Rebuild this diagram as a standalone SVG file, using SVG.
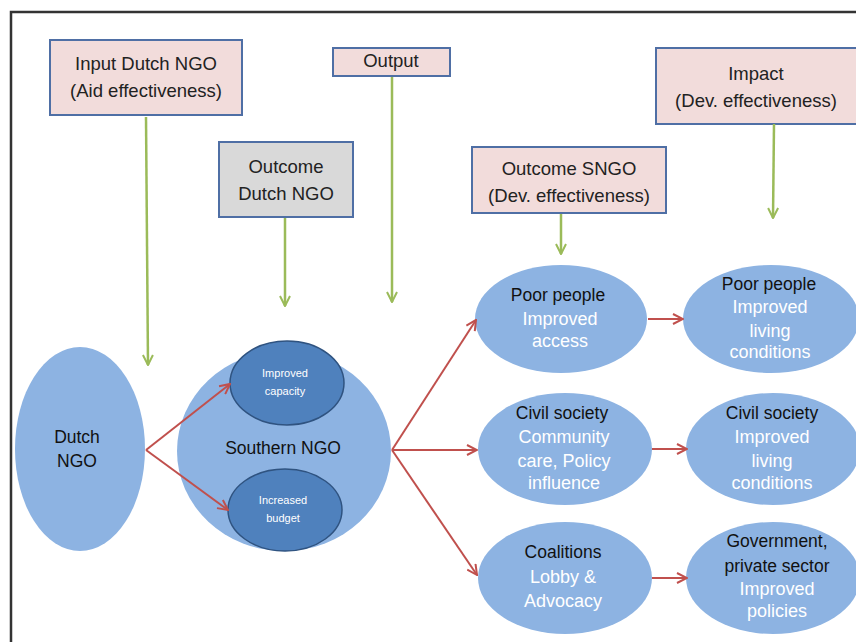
<svg xmlns="http://www.w3.org/2000/svg" width="856" height="642" viewBox="0 0 856 642">
<defs>
<marker id="ag" viewBox="0 0 12 12" refX="11" refY="6" markerWidth="12" markerHeight="12" markerUnits="userSpaceOnUse" orient="auto">
<path d="M1,1 L11,6 L1,11" fill="none" stroke="#9bbb59" stroke-width="2"/>
</marker>
<marker id="ar" viewBox="0 0 12 12" refX="11" refY="6" markerWidth="12" markerHeight="12" markerUnits="userSpaceOnUse" orient="auto">
<path d="M1,1 L11,6 L1,11" fill="none" stroke="#c0504d" stroke-width="2"/>
</marker>
</defs>
<style>
.box{fill:#f2dcdb;stroke:#4f6fa5;stroke-width:2}
.gbox{fill:#d9d9d9;stroke:#4f6fa5;stroke-width:2}
.lt{fill:#8db3e2}
.dk{fill:#4f81bd;stroke:#2f5380;stroke-width:1.5}
text{font-family:"Liberation Sans",Arial,sans-serif;text-anchor:middle}
.bt{font-size:18.5px;fill:#222}
.nt{font-size:17.5px;fill:#111}
.wt{font-size:18px;fill:#ffffff}
.st{font-size:11px;fill:#ffffff}
.g{stroke:#9bbb59;stroke-width:2.5;fill:none;marker-end:url(#ag)}
.r{stroke:#c0504d;stroke-width:2;fill:none;marker-end:url(#ar)}
</style>
<rect width="856" height="642" fill="#ffffff"/>
<path d="M11,660 L11,12 L870,12" fill="none" stroke="#333" stroke-width="2.5"/>

<g id="input-dutch-ngo">
<rect class="box" x="50" y="40" width="192" height="75"/>
<text class="bt" x="146" y="70">Input Dutch NGO</text>
<text class="bt" x="146" y="97">(Aid effectiveness)</text>
</g>
<g id="output">
<rect class="box" x="333" y="48" width="117" height="28"/>
<text class="bt" x="391" y="67">Output</text>
</g>
<g id="outcome-dutch-ngo">
<rect class="gbox" x="219" y="142" width="134" height="75"/>
<text class="bt" x="286" y="173">Outcome</text>
<text class="bt" x="286" y="200">Dutch NGO</text>
</g>
<g id="outcome-sngo">
<rect class="box" x="472" y="147" width="194" height="66"/>
<text class="bt" x="569" y="175">Outcome SNGO</text>
<text class="bt" x="569" y="202">(Dev. effectiveness)</text>
</g>
<g id="impact">
<rect class="box" x="656" y="48" width="210" height="76"/>
<text class="bt" x="756" y="80">Impact</text>
<text class="bt" x="756" y="107">(Dev. effectiveness)</text>
</g>

<g id="dutch-ngo">
<ellipse class="lt" cx="80" cy="449" rx="65" ry="102"/>
<text class="nt" x="77" y="443">Dutch</text>
<text class="nt" x="77" y="467">NGO</text>
</g>
<g id="southern-ngo">
<ellipse class="lt" cx="284" cy="451" rx="107" ry="100"/>
<text class="nt" x="283" y="454">Southern NGO</text>
</g>
<g id="improved-capacity">
<ellipse class="dk" cx="287" cy="383" rx="57" ry="42"/>
<text class="st" x="285" y="377">Improved</text>
<text class="st" x="285" y="395">capacity</text>
</g>
<g id="increased-budget">
<ellipse class="dk" cx="285" cy="510" rx="57" ry="41"/>
<text class="st" x="283" y="504">Increased</text>
<text class="st" x="283" y="522">budget</text>
</g>

<g id="poor-people-access">
<ellipse class="lt" cx="561" cy="319" rx="86" ry="54"/>
<text class="nt" x="558" y="301">Poor people</text>
<text class="wt" x="560" y="325">Improved</text>
<text class="wt" x="560" y="347">access</text>
</g>
<g id="civil-society-care">
<ellipse class="lt" cx="565" cy="449" rx="87" ry="56"/>
<text class="nt" x="562" y="419">Civil society</text>
<text class="wt" x="564" y="443">Community</text>
<text class="wt" x="564" y="467">care, Policy</text>
<text class="wt" x="564" y="489">influence</text>
</g>
<g id="coalitions">
<ellipse class="lt" cx="565" cy="578" rx="87" ry="56"/>
<text class="nt" x="563" y="558">Coalitions</text>
<text class="wt" x="563" y="583">Lobby &amp;</text>
<text class="wt" x="563" y="607">Advocacy</text>
</g>
<g id="poor-people-living">
<ellipse class="lt" cx="771" cy="319" rx="88" ry="54"/>
<text class="nt" x="769" y="290">Poor people</text>
<text class="wt" x="770" y="313">Improved</text>
<text class="wt" x="770" y="337">living</text>
<text class="wt" x="770" y="358">conditions</text>
</g>
<g id="civil-society-living">
<ellipse class="lt" cx="773" cy="449" rx="87" ry="56"/>
<text class="nt" x="772" y="419">Civil society</text>
<text class="wt" x="772" y="443">Improved</text>
<text class="wt" x="772" y="467">living</text>
<text class="wt" x="772" y="489">conditions</text>
</g>
<g id="government-private">
<ellipse class="lt" cx="773" cy="578" rx="87" ry="56"/>
<text class="nt" x="777" y="547">Government,</text>
<text class="nt" x="777" y="572">private sector</text>
<text class="wt" x="777" y="595">Improved</text>
<text class="wt" x="777" y="617">policies</text>
</g>

<g id="connectors">
<line class="g" x1="146" y1="117" x2="148" y2="365"/>
<line class="g" x1="285" y1="218" x2="285" y2="306"/>
<line class="g" x1="392" y1="77" x2="392" y2="302"/>
<line class="g" x1="561" y1="214" x2="561" y2="254"/>
<line class="g" x1="774" y1="124" x2="773" y2="218"/>
<path class="r" d="M146,450 L230,384"/>
<path class="r" d="M146,450 L228,510"/>
<path class="r" d="M392,450 L476,320"/>
<path class="r" d="M392,450 L477,450"/>
<path class="r" d="M392,450 L477,575"/>
<line class="r" x1="648" y1="319" x2="683" y2="319"/>
<line class="r" x1="652" y1="449" x2="687" y2="449"/>
<line class="r" x1="652" y1="578" x2="687" y2="578"/>
</g>
</svg>
